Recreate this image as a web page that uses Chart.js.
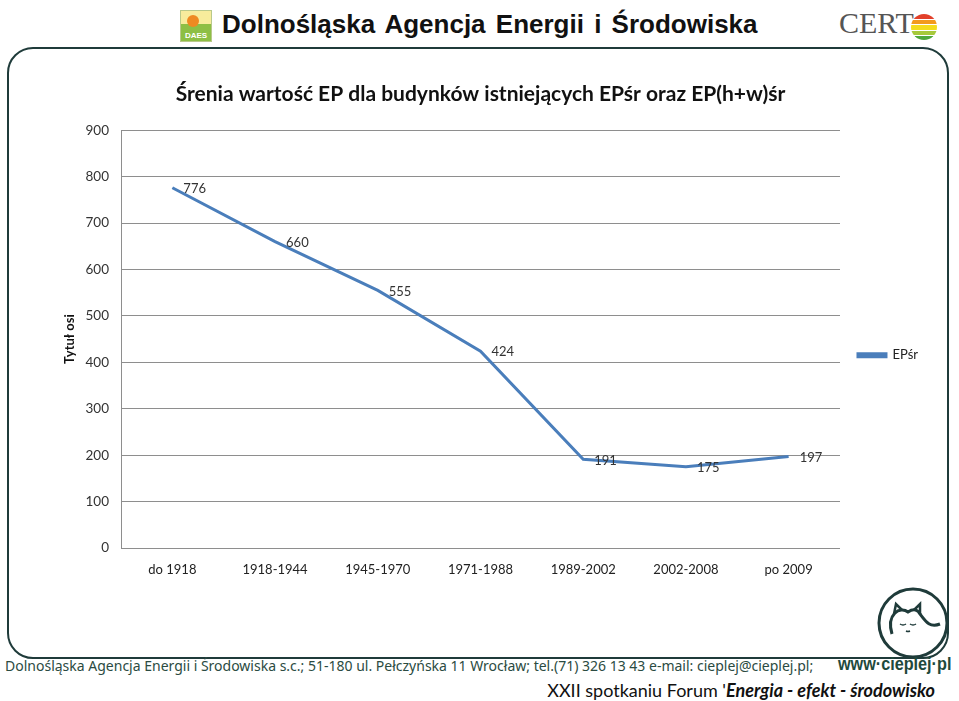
<!DOCTYPE html>
<html lang="pl">
<head>
<meta charset="utf-8">
<title>EPśr</title>
<script src="https://cdn.jsdelivr.net/npm/chart.js@4.4.1/dist/chart.umd.min.js"></script>
<style>
  html, body { margin: 0; padding: 0; background: #fff; }
  body { width: 959px; height: 701px; position: relative; overflow: hidden; font-family: Lato, sans-serif; }
  .abs { position: absolute; }
  #daes { left: 180px; top: 10px; width: 30px; height: 30px; background: linear-gradient(#f7ec9c 0 45%, #8dbf45 45%); border: 1px solid #b9c98a; overflow: hidden; }
  #daes .sun { position: absolute; left: 6px; top: 4px; width: 12px; height: 12px; border-radius: 50%; background: #ee8a22; }
  #daes .txt { position: absolute; left: 0; right: 0; bottom: 1px; font: bold 8px "Liberation Sans", sans-serif; color: #fff; text-align: center; }
  #head { left: 222px; top: 9px; font: bold 26px "Liberation Sans", Arial, sans-serif; color: #111; white-space: nowrap; word-spacing: 3px; }
  #cert { left: 839px; top: 6px; font: 30px "Liberation Serif", serif; color: #555; }
  #cert-ball { left: 911px; top: 14px; width: 26px; height: 26px; border-radius: 50%;
    background: linear-gradient(#e2402a 0 18%, #fff 18% 22%, #f39a1e 22% 40%, #fff 40% 44%, #f4dc1e 44% 62%, #fff 62% 66%, #a6c93a 66% 82%, #fff 82% 85%, #4fa83c 85%); }
  #frame { left: 7px; top: 47px; width: 938px; height: 608px; border: 2px solid #1f3b3a; border-radius: 26px; }
  #cat { left: 874px; top: 584px; }
  #foot1 { left: 5px; top: 656px; font: 14px "Noto Sans", sans-serif; color: #2b4b42; white-space: nowrap; }
  #foot1b { left: 838px; top: 654px; font: bold 18px "Liberation Sans", sans-serif; color: #1f4a3c; white-space: nowrap; transform: scaleX(0.9); transform-origin: left top; }
  #foot2 { right: 24px; top: 679px; font: 18px Lato, sans-serif; color: #111; white-space: nowrap; }
  #foot2 b { font-style: italic; }
  #c { position: absolute; left: 0; top: 0; }
</style>
</head>
<body>
<div id="daes" class="abs"><div class="sun"></div><div class="txt">DAES</div></div>
<div id="head" class="abs">Dolnośląska Agencja Energii i Środowiska</div>
<div id="cert" class="abs">CERT</div>
<div id="cert-ball" class="abs"></div>
<div id="frame" class="abs"></div>
<svg id="cat" class="abs" width="78" height="78" viewBox="0 0 78 78">
  <circle cx="39" cy="39" r="34" fill="#fff" stroke="#1f3b3a" stroke-width="3"/>
  <path d="M18 50 C 12 30, 26 22, 34 28 C 40 24, 44 26, 46 30 C 52 38, 56 44, 66 40" fill="none" stroke="#1f3b3a" stroke-width="3"/>
  <path d="M20 30 L 22 20 L 28 26 M 40 26 L 46 20 L 46 30" fill="none" stroke="#1f3b3a" stroke-width="2.5"/>
  <path d="M26 40 q3 2 6 0 M36 40 q3 2 6 0 M32 47 q2 1 4 0" fill="none" stroke="#1f3b3a" stroke-width="1.5"/>
</svg>
<div id="foot1" class="abs">Dolnośląska Agencja Energii i Środowiska s.c.; 51-180 ul. Pełczyńska 11 Wrocław; tel.(71) 326 13 43 e-mail: cieplej@cieplej.pl;</div>
<div id="foot1b" class="abs">www·cieplej·pl</div>
<div id="foot2" class="abs">XXII spotkaniu Forum '<b>Energia - efekt - środowisko</b></div>
<canvas id="c" width="959" height="701"></canvas>
<script>
const categories = ['do 1918', '1918-1944', '1945-1970', '1971-1988', '1989-2002', '2002-2008', 'po 2009'];
const epSr = [776, 660, 555, 424, 191, 175, 197];
const seriesName = 'EPśr';
const chartTitle = 'Śrenia wartość EP dla budynków istniejących EPśr oraz EP(h+w)śr';
const axisTitle = 'Tytuł osi';
const yMin = 0;
const yMax = 900;
const yStep = 100;

const lineColor = '#4a7ebb';
const gridColor = '#8e8e8e';

// value labels to the right of each point, like the Excel chart
const valueLabels = {
  id: 'valueLabels',
  afterDatasetsDraw(chart) {
    const { ctx } = chart;
    const meta = chart.getDatasetMeta(0);
    ctx.save();
    ctx.font = '13px Lato';
    ctx.fillStyle = '#333';
    ctx.textAlign = 'left';
    ctx.textBaseline = 'middle';
    meta.data.forEach((pt, i) => {
      ctx.fillText(String(chart.data.datasets[0].data[i]), pt.x + 11, pt.y + 1);
    });
    ctx.restore();
  }
};

new Chart(document.getElementById('c'), {
  type: 'line',
  data: {
    labels: categories,
    datasets: [{
      label: seriesName,
      data: epSr,
      borderColor: lineColor,
      backgroundColor: lineColor,
      borderWidth: 3,
      pointRadius: 0,
      tension: 0
    }]
  },
  options: {
    responsive: false,
    animation: false,
    layout: { padding: { top: 82, left: 55, right: 31, bottom: 113 } },
    plugins: {
      title: {
        display: true,
        text: chartTitle,
        fullSize: false,
        color: '#111',
        font: { family: 'Lato', size: 21, weight: 'bold' },
        padding: { top: 0, bottom: 23 }
      },
      legend: {
        position: 'right',
        fullSize: false,
        // empty title only pushes the entry down to where Excel puts it
        title: { display: true, text: '', font: { size: 27 }, padding: 0 },
        labels: {
          boxWidth: 28,
          boxHeight: 3,
          padding: 18,
          color: '#222',
          font: { family: 'Lato', size: 13 }
        }
      },
      tooltip: { enabled: false }
    },
    scales: {
      x: {
        offset: true,
        grid: { display: false, drawTicks: false },
        border: { display: false },
        ticks: { color: '#222', font: { family: 'Lato', size: 13 }, padding: 14, maxRotation: 0 },
        afterFit: (s) => { s.height = 40; }
      },
      y: {
        min: yMin,
        max: yMax,
        grid: { color: gridColor, lineWidth: 1, drawTicks: false },
        border: { display: true, color: gridColor },
        ticks: { stepSize: yStep, color: '#333', font: { family: 'Lato', size: 13.5 }, padding: 12 },
        title: { display: true, text: axisTitle, color: '#111', font: { family: 'Lato', size: 13, weight: 'bold' }, padding: { top: 7, bottom: 0 } },
        afterFit: (s) => { s.width = 66; }
      }
    }
  },
  plugins: [valueLabels]
});
</script>
</body>
</html>
